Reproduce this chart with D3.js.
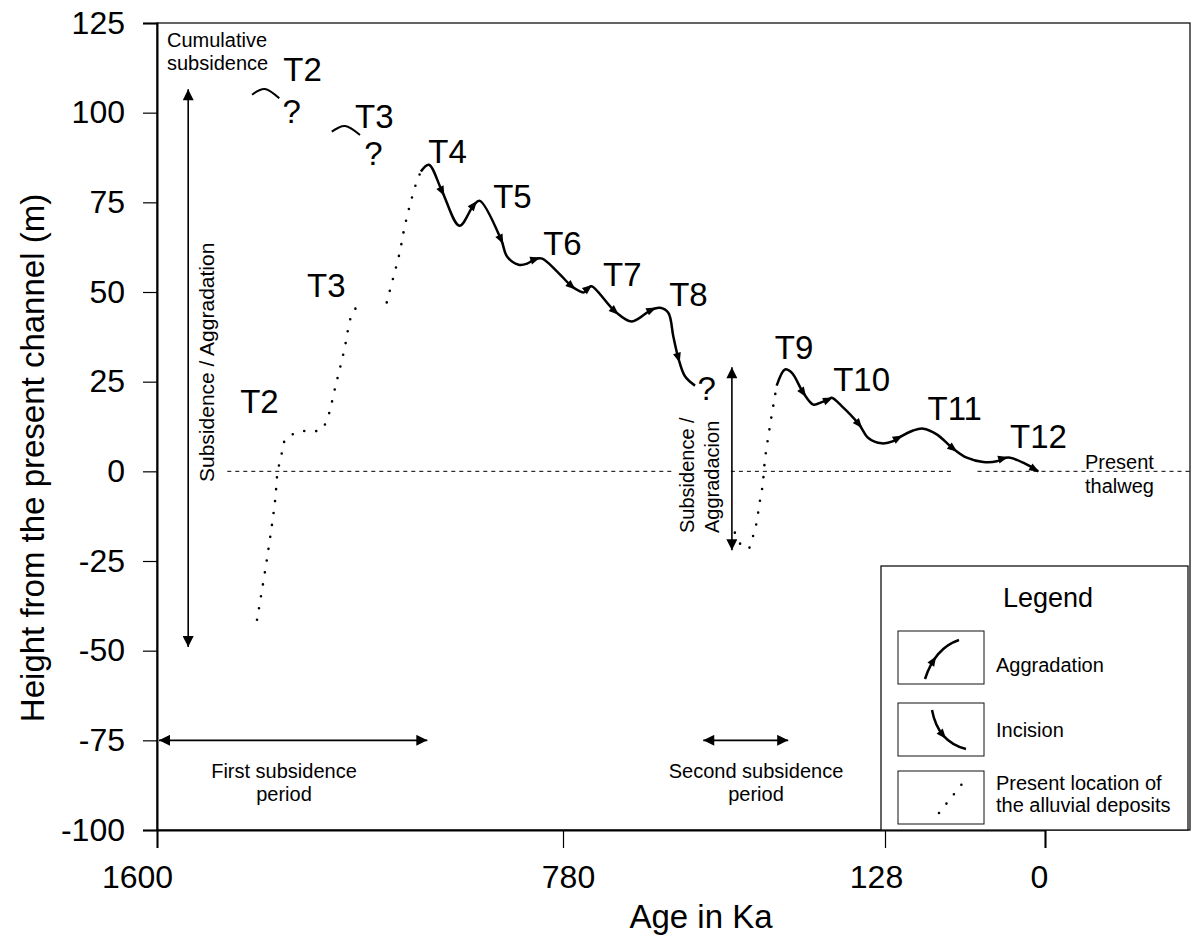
<!DOCTYPE html>
<html>
<head>
<meta charset="utf-8">
<script src="https://cdn.jsdelivr.net/npm/d3@7"></script>
<style>
  body { margin: 0; background: #fff; }
  svg { display: block; font-family: "Liberation Sans", Arial, sans-serif; }
</style>
</head>
<body>
<div id="chart"></div>
<script>
// axis ticks
var ageTicks = [1600, 780, 128, 0];
var heightTicks = [125, 100, 75, 50, 25, 0, -25, -50, -75, -100];

// T4 -> T8 terrace sequence, [age Ka, height m]
var reachOld = [[1067, 83.6], [1051, 85.5], [1024, 78], [989, 68.5], [960, 74.3], [948, 75.4],
    [905, 64.6], [893, 59.9], [869.5, 57.6], [852.5, 57.9], [835.7, 59.2], [822, 59.3],
    [791.8, 55.7], [762.4, 51.6], [745.6, 50.2], [737.5, 49.9], [728.8, 51.1], [721.9, 51.6],
    [674.7, 44.6], [640.9, 41.8], [600.4, 45.1], [583.6, 45.6], [566.8, 44.2], [556.6, 37.6],
    [546.5, 31.6], [533, 26.5], [512.7, 23.9]];
var reachOldArrows = [2, 4, 6, 10, 13, 16, 18, 20, 24];

// T9 -> T12
var reachYoung = [[347.3, 23.9], [330.4, 28.4], [316.9, 27.5], [293.4, 21.9], [273.1, 18.6],
    [256.1, 19.3], [242.8, 20], [235.9, 20.5], [215.6, 18.2], [180.6, 13.1], [161.8, 9.3],
    [134.6, 7.8], [121.4, 8.4], [117.4, 9.3], [105.4, 11.4], [97.4, 11.9], [86.6, 10.3],
    [73.4, 6.3], [62.6, 3.8], [49.4, 2.6], [38.6, 2.8], [33.4, 3.6], [28, 3.8], [17.4, 2.4], [5.4, 0]];
var reachYoungArrows = [3, 6, 9, 13, 17, 21, 24];

// present location of the alluvial deposits (dotted)
var depositsT2 = [[1398, -41.4], [1378, -24.5], [1361, -7.6], [1357, -0.9], [1347, 5.6], [1340, 9.1],
    [1319, 10.7], [1295, 11.4], [1270, 11.4], [1257, 14.3], [1239, 24], [1222, 33.7], [1206, 43.9], [1192, 46.5]];
var depositsT3 = [[1136, 47.1], [1123, 53.9], [1110, 60.9], [1101, 67.4], [1090, 73.8], [1076, 80.5], [1067, 83.6]];
var depositsT9 = [[432, -17.1], [420, -20.4], [405, -21.6], [395, -18], [388, -14.3], [382.5, -9.2],
    [376, -4.1], [371, 3.3], [361, 12.6], [351, 20.9], [347.3, 23.9]];

// original (uplifted) position of T2, T3
var terraceT2 = [[1408, 105], [1382, 106.6], [1353, 104]];
var terraceT3 = [[1247, 94.7], [1220, 96.3], [1190, 93.8]];

// terrace labels [text, age, height, anchor]
var terraceLabels = [
    ["T2", 1345, 108.7, "start"], ["?", 1328, 97.1, "middle"],
    ["T3", 1200, 95.7, "start"], ["?", 1163, 85.4, "middle"],
    ["T4", 1052, 85.9, "start"], ["T5", 921, 73.4, "start"], ["T6", 820, 60.4, "start"],
    ["T7", 699, 51.6, "start"], ["T8", 565, 46, "start"], ["?", 489, 19.9, "middle"],
    ["T9", 351, 31.2, "start"], ["T10", 233, 22.3, "start"], ["T11", 94, 14.4, "start"],
    ["T12", 28, 6.6, "start"], ["T3", 1297, 48.7, "start"], ["T2", 1432, 16.4, "start"]
];

// subsidence arrows: [age, height from, height to]
var subsidenceVertical = [[1537, 106.5, -49], [438, 29, -22]];
// subsidence periods: [age from, age to] at height -75
var subsidencePeriods = [[1596, 1054], [496, 324]];
var periodHeight = -75;
// present thalweg (dashed), null = right frame
var thalwegSegments = [[1458, 559], [440, 74], [54, null]];

var W = 1200, H = 945;
var plotL = 157, plotR = 1190, plotT = 23, plotB = 830;
var font = '"Liberation Sans", Arial, sans-serif';
// hand placement of the age labels in the original figure
var ageLabelNudge = {1600: -20, 780: 5, 128: -9, 0: -6};

var svg = d3.select("#chart").append("svg").attr("width", W).attr("height", H);

var x = d3.scaleLinear().domain(ageTicks).range([157, 563, 885, 1045]);
var y = d3.scaleLinear().domain([-100, 125]).range([plotB, plotT]);

var defs = svg.append("defs");
defs.append("marker")
    .attr("id", "head")
    .attr("viewBox", "0 -5 10 10")
    .attr("refX", 10).attr("refY", 0)
    .attr("markerUnits", "userSpaceOnUse")
    .attr("markerWidth", 14).attr("markerHeight", 11)
    .attr("orient", "auto-start-reverse")
    .append("path").attr("d", "M0,-5L10,0L0,5Z").attr("fill", "#000");

// frame
svg.append("rect")
    .attr("x", plotL).attr("y", plotT)
    .attr("width", plotR - plotL).attr("height", plotB - plotT)
    .attr("fill", "none").attr("stroke", "#111").attr("stroke-width", 1.3);

// axes
var yAxis = svg.append("g")
    .attr("transform", "translate(" + plotL + ",0)")
    .call(d3.axisLeft(y).tickValues(heightTicks).tickSize(14).tickPadding(18).tickFormat(String));
var xAxis = svg.append("g")
    .attr("transform", "translate(0," + plotB + ")")
    .call(d3.axisBottom(x).tickValues(ageTicks).tickSize(18).tickPadding(17).tickFormat(String));
[yAxis, xAxis].forEach(function (g) {
    g.attr("font-family", font).attr("font-size", 32);
    g.select(".domain").attr("stroke-width", 2);
    g.selectAll(".tick line").attr("stroke-width", 1.2);
    g.selectAll(".tick text").attr("fill", "#000");
});
xAxis.selectAll(".tick text").attr("dx", function (d) { return ageLabelNudge[d]; });

svg.append("text")
    .attr("transform", "translate(44,458) rotate(-90)")
    .attr("text-anchor", "middle")
    .attr("font-size", 33)
    .text("Height from the present channel (m)");
svg.append("text")
    .attr("x", 701).attr("y", 928)
    .attr("text-anchor", "middle")
    .attr("font-size", 33)
    .text("Age in Ka");

// present thalweg
var thalweg = svg.append("g");
thalwegSegments.forEach(function (s) {
    thalweg.append("line")
        .attr("x1", x(s[0])).attr("x2", s[1] === null ? plotR : x(s[1]))
        .attr("y1", y(0)).attr("y2", y(0))
        .attr("stroke", "#000").attr("stroke-width", 1)
        .attr("stroke-dasharray", "4,4");
});

var line = d3.line()
    .x(function (d) { return x(d[0]); })
    .y(function (d) { return y(d[1]); })
    .curve(d3.curveCatmullRom.alpha(0.5));
var arc = d3.line()
    .x(function (d) { return x(d[0]); })
    .y(function (d) { return y(d[1]); })
    .curve(d3.curveNatural);

// dotted deposits
[depositsT2, depositsT3, depositsT9].forEach(function (pts) {
    svg.append("path")
        .attr("d", line(pts))
        .attr("fill", "none").attr("stroke", "#000")
        .attr("stroke-width", 2.6).attr("stroke-linecap", "round")
        .attr("stroke-dasharray", "0,12");
});

// uplifted terraces
[terraceT2, terraceT3].forEach(function (pts) {
    svg.append("path")
        .attr("d", arc(pts))
        .attr("fill", "none").attr("stroke", "#000").attr("stroke-width", 2);
});

function arrowHead(g, px, py, ang, len, wid) {
    g.append("path")
        .attr("d", "M" + (len / 2) + ",0L" + (-len / 2) + "," + (-wid / 2) + "L" + (-len / 2) + "," + (wid / 2) + "Z")
        .attr("transform", "translate(" + px + "," + py + ") rotate(" + (ang * 180 / Math.PI) + ")")
        .attr("fill", "#000");
}

// terrace reaches with flow arrows
[[reachOld, reachOldArrows], [reachYoung, reachYoungArrows]].forEach(function (r) {
    var pts = r[0];
    var g = svg.append("g");
    g.append("path")
        .attr("d", line(pts))
        .attr("fill", "none").attr("stroke", "#000").attr("stroke-width", 2.5);
    r[1].forEach(function (i) {
        var a = pts[Math.max(i - 1, 0)], b = pts[Math.min(i + 1, pts.length - 1)];
        var ang = Math.atan2(y(b[1]) - y(a[1]), x(b[0]) - x(a[0]));
        var last = i === pts.length - 1;
        arrowHead(g, x(pts[i][0]) - (last ? 4 * Math.cos(ang) : 0), y(pts[i][1]) - (last ? 4 * Math.sin(ang) : 0), ang, 10, 8);
    });
});

// subsidence arrows
subsidenceVertical.forEach(function (d) {
    svg.append("line")
        .attr("x1", x(d[0])).attr("x2", x(d[0]))
        .attr("y1", y(d[1])).attr("y2", y(d[2]))
        .attr("stroke", "#000").attr("stroke-width", 1.6)
        .attr("marker-start", "url(#head)").attr("marker-end", "url(#head)");
});
subsidencePeriods.forEach(function (d) {
    svg.append("line")
        .attr("x1", x(d[0])).attr("x2", x(d[1]))
        .attr("y1", y(periodHeight)).attr("y2", y(periodHeight))
        .attr("stroke", "#000").attr("stroke-width", 1.6)
        .attr("marker-start", "url(#head)").attr("marker-end", "url(#head)");
});

// labels
svg.append("g").selectAll("text")
    .data(terraceLabels)
    .join("text")
    .attr("x", function (d) { return x(d[1]); })
    .attr("y", function (d) { return y(d[2]); })
    .attr("text-anchor", function (d) { return d[3]; })
    .attr("font-size", 33)
    .text(function (d) { return d[0]; });

function textLines(lines, px, py, anchor, size, dy) {
    var t = svg.append("text")
        .attr("x", px).attr("y", py)
        .attr("text-anchor", anchor)
        .attr("font-size", size);
    lines.forEach(function (s, i) {
        t.append("tspan").attr("x", px).attr("dy", i ? dy : 0).text(s);
    });
    return t;
}

textLines(["Cumulative", "subsidence"], 167, 47, "start", 20, 23);
svg.append("text")
    .attr("transform", "translate(214,482) rotate(-90)")
    .attr("font-size", 21)
    .text("Subsidence / Aggradation");
svg.append("text")
    .attr("transform", "translate(694,533) rotate(-90)")
    .attr("font-size", 20)
    .text("Subsidence /");
svg.append("text")
    .attr("transform", "translate(719,533) rotate(-90)")
    .attr("font-size", 20)
    .text("Aggradacion");
textLines(["First subsidence", "period"], 284, 778, "middle", 20, 23);
textLines(["Second subsidence", "period"], 756, 778, "middle", 20, 23);
textLines(["Present", "thalweg"], 1085, 469, "start", 20, 24);

// legend
var lg = svg.append("g");
lg.append("rect")
    .attr("x", 881).attr("y", 566).attr("width", plotR - 2 - 881).attr("height", plotB - 566)
    .attr("fill", "#fff").attr("stroke", "#111").attr("stroke-width", 1.3);
lg.append("text")
    .attr("x", 1048).attr("y", 607)
    .attr("text-anchor", "middle").attr("font-size", 27)
    .text("Legend");

var boxes = [631, 703, 771];
boxes.forEach(function (by) {
    lg.append("rect")
        .attr("x", 898).attr("y", by).attr("width", 86).attr("height", 53)
        .attr("fill", "none").attr("stroke", "#111").attr("stroke-width", 1);
});

function sampleCurve(p0, c, p1, t) {
    var path = lg.append("path")
        .attr("d", "M" + p0 + "Q" + c + " " + p1)
        .attr("fill", "none").attr("stroke", "#000").attr("stroke-width", 2.5);
    var node = path.node(), L = node.getTotalLength();
    var a = node.getPointAtLength(L * t - 1), b = node.getPointAtLength(L * t + 1);
    var m = node.getPointAtLength(L * t);
    arrowHead(lg, m.x, m.y, Math.atan2(b.y - a.y, b.x - a.x), 10, 8);
}
sampleCurve([925, 679], [935, 648], [959, 640], 0.38);
sampleCurve([932, 710], [938, 742], [966, 749], 0.5);
lg.append("path")
    .attr("d", "M939,813L962,784")
    .attr("stroke", "#000").attr("stroke-width", 2.6)
    .attr("stroke-linecap", "round").attr("stroke-dasharray", "0,12");

textLines(["Aggradation"], 996, 672, "start", 20, 0);
textLines(["Incision"], 996, 737, "start", 20, 0);
textLines(["Present location of", "the alluvial deposits"], 996, 790, "start", 20, 22);
</script>
</body>
</html>
